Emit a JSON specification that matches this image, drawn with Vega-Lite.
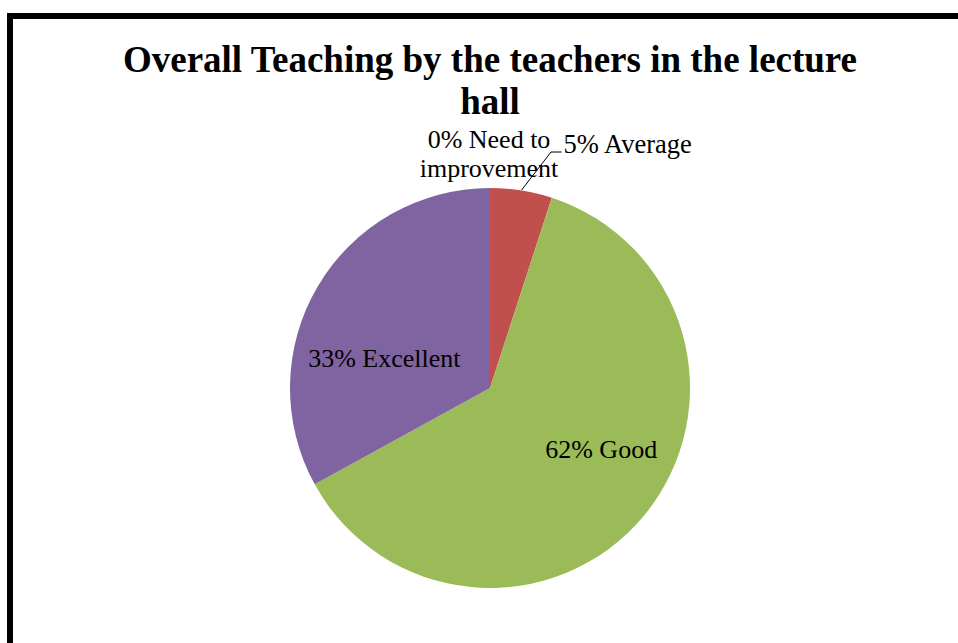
{
  "$schema": "https://vega.github.io/schema/vega-lite/v6.json",
  "width": 960,
  "height": 744,
  "autosize": {"type": "none"},
  "padding": {"left": 10, "top": 16, "right": -12, "bottom": -117},
  "background": "white",
  "config": {
    "view": {"stroke": "black", "strokeWidth": 6},
    "font": "Liberation Serif"
  },
  "title": {
    "text": ["Overall Teaching by the teachers in the lecture", "hall"],
    "font": "Liberation Serif",
    "fontSize": 37,
    "fontWeight": "bold",
    "color": "black",
    "anchor": "middle",
    "baseline": "top",
    "lineHeight": 42,
    "offset": -106
  },
  "data": {
    "values": [
      {"category": "Need to improvement", "value": 0, "rank": 1, "label": "0% Need to\nimprovement"},
      {"category": "Average", "value": 5, "rank": 2, "label": "5% Average"},
      {"category": "Good", "value": 62, "rank": 3, "label": "62% Good"},
      {"category": "Excellent", "value": 33, "rank": 4, "label": "33% Excellent"}
    ]
  },
  "layer": [
    {
      "mark": {"type": "arc", "outerRadius": 200, "stroke": null},
      "encoding": {
        "theta": {"field": "value", "type": "quantitative", "stack": true},
        "order": {"field": "rank", "type": "quantitative"},
        "color": {
          "field": "category",
          "type": "nominal",
          "scale": {
            "domain": ["Need to improvement", "Average", "Good", "Excellent"],
            "range": ["#4F81BD", "#C0504D", "#9BBB59", "#8064A2"]
          },
          "legend": null
        }
      }
    },
    {
      "mark": {"type": "text", "radius": 130, "dx": 11, "dy": -13, "fontSize": 26, "font": "Liberation Serif", "align": "center", "baseline": "alphabetic", "color": "black"},
      "encoding": {
        "theta": {"field": "value", "type": "quantitative", "stack": true},
        "order": {"field": "rank", "type": "quantitative"},
        "text": {"condition": {"test": "datum.category === 'Good'", "field": "label"}, "value": ""}
      }
    },
    {
      "mark": {"type": "text", "radius": 110, "dx": -11, "dy": 35, "fontSize": 26, "font": "Liberation Serif", "align": "center", "baseline": "alphabetic", "color": "black"},
      "encoding": {
        "theta": {"field": "value", "type": "quantitative", "stack": true},
        "order": {"field": "rank", "type": "quantitative"},
        "text": {"condition": {"test": "datum.category === 'Excellent'", "field": "label"}, "value": ""}
      }
    },
    {
      "mark": {"type": "text", "radius": 240, "dx": 36, "dy": 2, "fontSize": 26.5, "font": "Liberation Serif", "align": "left", "baseline": "alphabetic", "color": "black"},
      "encoding": {
        "theta": {"field": "value", "type": "quantitative", "stack": true},
        "order": {"field": "rank", "type": "quantitative"},
        "text": {"condition": {"test": "datum.category === 'Average'", "field": "label"}, "value": ""}
      }
    },
    {
      "mark": {"type": "text", "radius": 240, "dx": -1, "dy": 0, "fontSize": 26, "font": "Liberation Serif", "align": "center", "baseline": "alphabetic", "lineBreak": "\n", "lineHeight": 29, "color": "black"},
      "encoding": {
        "theta": {"field": "value", "type": "quantitative", "stack": true},
        "order": {"field": "rank", "type": "quantitative"},
        "text": {"condition": {"test": "datum.category === 'Need to improvement'", "field": "label"}, "value": ""}
      }
    },
    {
      "data": {
        "values": [
          {"px": 0.158, "py": 0.99, "step": 1},
          {"px": 0.305, "py": 1.18, "step": 2},
          {"px": 0.358, "py": 1.18, "step": 3}
        ]
      },
      "mark": {"type": "line", "color": "black", "strokeWidth": 1},
      "encoding": {
        "x": {"field": "px", "type": "quantitative", "scale": {"domain": [-2.4, 2.4], "nice": false, "zero": false}, "axis": null},
        "y": {"field": "py", "type": "quantitative", "scale": {"domain": [-1.86, 1.86], "nice": false, "zero": false}, "axis": null},
        "order": {"field": "step", "type": "quantitative"}
      }
    }
  ]
}
